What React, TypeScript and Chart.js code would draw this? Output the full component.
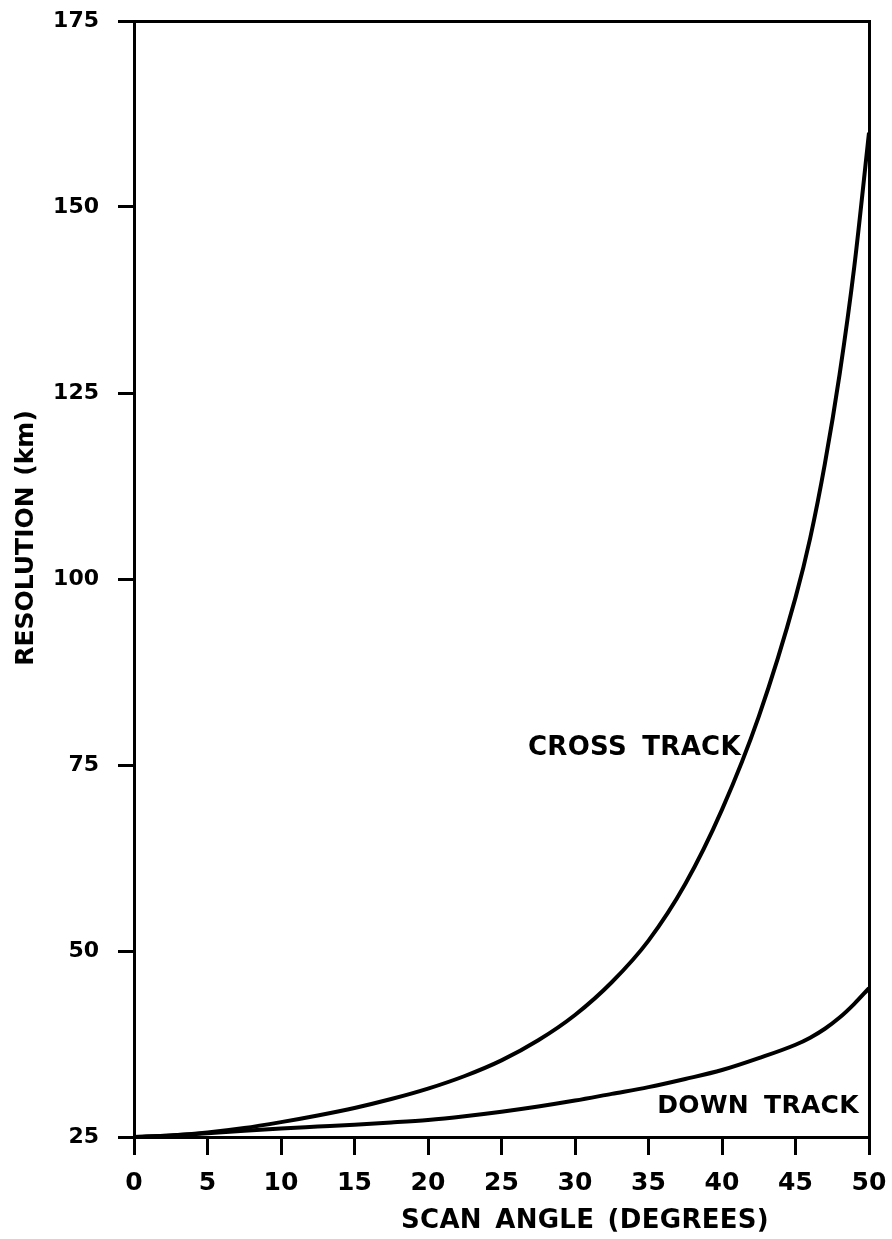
import React, { useEffect, useRef } from "react";
import { Chart, registerables } from "chart.js";

Chart.register(...registerables);

// Scan angle (degrees) sample points shared by both curves
const scanAngles = [0, 2.5, 5, 7.5, 10, 12.5, 15, 17.5, 20, 22.5, 25, 27.5, 30, 32.5, 35, 37.5, 40, 42.5, 45, 46, 47, 48, 49, 50];
// Resolution (km)
const crossTrack = [25.0, 25.2, 25.6, 26.2, 27.0, 27.9, 28.9, 30.1, 31.5, 33.2, 35.3, 38.0, 41.4, 45.8, 51.4, 59.0, 69.0, 81.5, 97.5, 105.5, 115.5, 127.5, 142.0, 160.0];
const downTrack = [25.0, 25.2, 25.5, 25.85, 26.15, 26.4, 26.65, 26.95, 27.3, 27.8, 28.4, 29.1, 29.9, 30.8, 31.7, 32.8, 34.0, 35.6, 37.4, 38.35, 39.55, 41.05, 42.9, 45.0];

const xTicks = [0, 5, 10, 15, 20, 25, 30, 35, 40, 45, 50];
const yTicks = [25, 50, 75, 100, 125, 150, 175];

const curveLabels = ["CROSS TRACK", "DOWN TRACK"];
const curveLabelAngles = [26.8, 35.6];
const curveLabelValues = [76.3, 28.2];

const xTitle = "SCAN ANGLE (DEGREES)";
const yTitle = "RESOLUTION (km)";

const FONT = '"DejaVu Sans", sans-serif';
const curveLabelSizes = [26, 25];

const noPadding = (s: any) => {
  s.paddingTop = 0;
  s.paddingBottom = 0;
  s.paddingLeft = 0;
  s.paddingRight = 0;
};

const textPlugin = {
  id: "figureTexts",
  afterDraw(chart: any) {
    const { ctx, chartArea, scales } = chart;
    ctx.save();
    ctx.fillStyle = "#000";
    ctx.textAlign = "left";
    ctx.textBaseline = "alphabetic";
    (ctx as any).letterSpacing = "0.3px";
    (ctx as any).wordSpacing = "6px";
    curveLabels.forEach((t, i) => {
      ctx.font = `bold ${curveLabelSizes[i]}px ${FONT}`;
      ctx.fillText(
        t,
        scales.x.getPixelForValue(curveLabelAngles[i]),
        scales.y.getPixelForValue(curveLabelValues[i])
      );
    });
    ctx.font = `bold 26px ${FONT}`;
    ctx.textAlign = "center";
    (ctx as any).letterSpacing = "0.3px";
    (ctx as any).wordSpacing = "4px";
    ctx.fillText(xTitle, chartArea.left + 451, chartArea.bottom + 91);
    ctx.translate(33, chartArea.top + 517);
    ctx.rotate(-Math.PI / 2);
    ctx.font = `bold 25px ${FONT}`;
    (ctx as any).letterSpacing = "0px";
    (ctx as any).wordSpacing = "2px";
    ctx.fillText(yTitle, 0, 0);
    ctx.restore();
  },
};

export default function App() {
  const ref = useRef<HTMLCanvasElement | null>(null);

  useEffect(() => {
    if (!ref.current) return;
    const black = "#000";
    const chart = new Chart(ref.current, {
      type: "line",
      data: {
        datasets: [
          {
            label: "Cross track",
            data: scanAngles.map((a, i) => ({ x: a, y: crossTrack[i] })),
            borderColor: black,
            borderWidth: 4,
            pointRadius: 0,
            cubicInterpolationMode: "monotone",
            fill: false,
          },
          {
            label: "Down track",
            data: scanAngles.map((a, i) => ({ x: a, y: downTrack[i] })),
            borderColor: black,
            borderWidth: 4,
            pointRadius: 0,
            cubicInterpolationMode: "monotone",
            fill: false,
          },
        ],
      },
      options: {
        animation: false,
        responsive: false,
        devicePixelRatio: 1,
        layout: { padding: { left: 0, top: 21, right: 23, bottom: 0 } },
        plugins: { legend: { display: false }, tooltip: { enabled: false } },
        scales: {
          x: {
            type: "linear",
            position: "bottom",
            min: 0,
            max: 50,
            afterBuildTicks: (s: any) => {
              s.ticks = xTicks.map((v) => ({ value: v }));
            },
            afterFit: (s: any) => {
              s.height = 102;
              noPadding(s);
            },
            ticks: {
              color: black,
              font: { family: FONT, weight: "bold", size: 25 },
              padding: 13,
              maxRotation: 0,
              autoSkip: false,
            },
            grid: { drawOnChartArea: false, drawTicks: true, tickLength: 18, color: black, lineWidth: 3 },
            border: { color: black, width: 3 },
          },
          y: {
            type: "linear",
            position: "left",
            min: 25,
            max: 175,
            afterBuildTicks: (s: any) => {
              s.ticks = yTicks.map((v) => ({ value: v }));
            },
            afterFit: (s: any) => {
              s.width = 134;
              noPadding(s);
            },
            ticks: {
              color: black,
              font: { family: FONT, weight: "bold", size: 22 },
              padding: 19,
              autoSkip: false,
            },
            grid: { drawOnChartArea: false, drawTicks: true, tickLength: 16, color: black, lineWidth: 3 },
            border: { color: black, width: 3 },
          },
          x2: {
            type: "linear",
            position: "top",
            min: 0,
            max: 50,
            ticks: { display: false },
            grid: { display: false },
            border: { color: black, width: 3 },
            afterFit: (s: any) => {
              s.height = 0;
              noPadding(s);
            },
          },
          y2: {
            type: "linear",
            position: "right",
            min: 25,
            max: 175,
            ticks: { display: false },
            grid: { display: false },
            border: { color: black, width: 3 },
            afterFit: (s: any) => {
              s.width = 0;
              noPadding(s);
            },
          },
        },
      } as any,
      plugins: [textPlugin],
    });
    return () => chart.destroy();
  }, []);

  return (
    <div style={{ position: "absolute", left: 0, top: 0, width: 892, height: 1239, background: "#fff" }}>
      <canvas ref={ref} width={892} height={1239} style={{ display: "block" }} />
    </div>
  );
}
